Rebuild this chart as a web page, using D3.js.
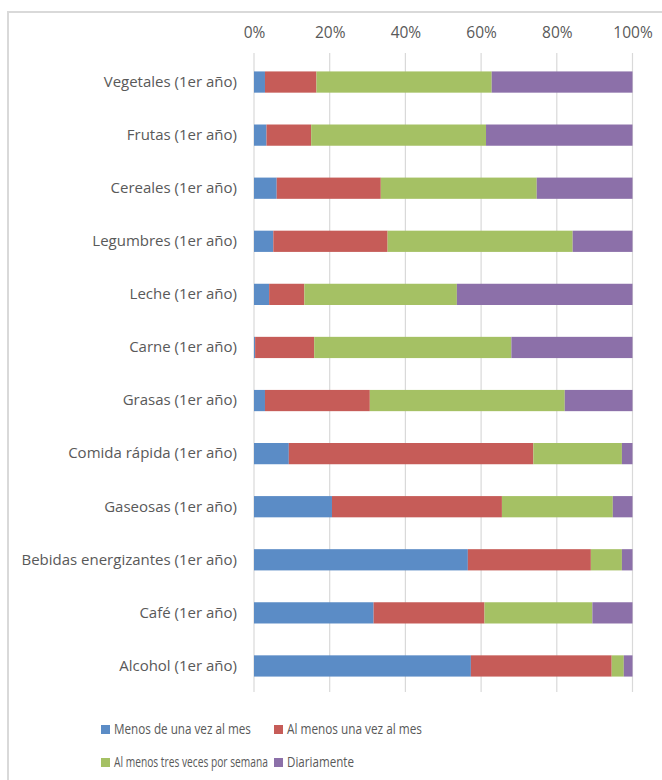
<!DOCTYPE html>
<html>
<head>
<meta charset="utf-8">
<script src="https://cdn.jsdelivr.net/npm/d3@7"></script>
<style>
  body { margin: 0; background: #fff; }
  text { font-family: "Open Sans", "Liberation Sans", sans-serif; fill: #595959; }
</style>
</head>
<body>
<svg id="chart"></svg>
<script>
// Food frequency chart, first year, 100% stacked bars

const categories = [
  "Vegetales (1er año)", "Frutas (1er año)", "Cereales (1er año)",
  "Legumbres (1er año)", "Leche (1er año)", "Carne (1er año)",
  "Grasas (1er año)", "Comida rápida (1er año)", "Gaseosas (1er año)",
  "Bebidas energizantes (1er año)", "Café (1er año)", "Alcohol (1er año)"
]
const seriesNames = [
  "Menos de una vez al mes", "Al menos una vez al mes",
  "Al menos tres veces por semana", "Diariamente"
]
const menosUnaVez = [2.9, 3.3, 6.0, 5.1, 4.0, 0.3, 2.9, 9.2, 20.6, 56.5, 31.6, 57.3]
const unaVezMes = [13.6, 11.8, 27.5, 30.2, 9.3, 15.6, 27.7, 64.6, 44.9, 32.5, 29.3, 37.2]
const tresVeces = [46.3, 46.2, 41.2, 48.9, 40.3, 52.1, 51.5, 23.4, 29.3, 8.2, 28.5, 3.2]
const diario = [37.2, 38.7, 25.3, 15.8, 46.4, 32.0, 17.9, 2.8, 5.2, 2.8, 10.6, 2.3]
const tickValues = [0, 0.2, 0.4, 0.6, 0.8, 1]

const colors = ["#5b8cc6", "#c65c58", "#a5c164", "#8c70a9"]

const width = 662
const height = 780
const svg = d3.select("#chart")
  .attr("width", width)
  .attr("height", height)

// chart frame (runs off the right and bottom edges like the original)
svg.append("path")
  .attr("d", `M8,${height + 5}V12H${width + 5}`)
  .attr("fill", "none")
  .attr("stroke", "#d9d9d9")
  .attr("stroke-width", 2)

const table = categories.map((c, i) => ({
  cat: c,
  [seriesNames[0]]: menosUnaVez[i],
  [seriesNames[1]]: unaVezMes[i],
  [seriesNames[2]]: tresVeces[i],
  [seriesNames[3]]: diario[i]
}))

const stacked = d3.stack()
  .keys(seriesNames)
  .offset(d3.stackOffsetExpand)(table)

const x = d3.scaleLinear()
  .domain([0, 1])
  .range([254, 632.5])

const y = d3.scaleBand()
  .domain(categories)
  .range([55.5, 692.5])
  .paddingInner(0.6)
  .paddingOuter(0.3)

// gridlines
svg.append("g")
  .selectAll("line")
  .data(tickValues)
  .join("line")
  .attr("x1", d => x(d))
  .attr("x2", d => x(d))
  .attr("y1", 53)
  .attr("y2", 692)
  .attr("stroke", "#d9d9d9")
  .attr("stroke-width", 1.2)

// top axis labels
svg.append("g")
  .attr("transform", "translate(0, 43)")
  .call(d3.axisTop(x)
    .tickValues(tickValues)
    .tickFormat(d3.format(".0%"))
    .tickSize(0)
    .tickPadding(5))
  .call(g => g.select(".domain").remove())
  .call(g => g.selectAll(".tick text")
    .attr("font-size", 15.5)
    .attr("font-family", null)
    .attr("fill", null))

// bars
svg.append("g")
  .selectAll("g")
  .data(stacked)
  .join("g")
  .attr("fill", (d, i) => colors[i])
  .selectAll("rect")
  .data(d => d)
  .join("rect")
  .attr("x", d => x(d[0]))
  .attr("width", d => x(d[1]) - x(d[0]))
  .attr("y", d => y(d.data.cat))
  .attr("height", y.bandwidth())

// category labels
svg.append("g")
  .attr("transform", `translate(${x(0)}, 0)`)
  .call(d3.axisLeft(y).tickSize(0).tickPadding(17))
  .call(g => g.select(".domain").remove())
  .call(g => g.selectAll(".tick text")
    .attr("font-size", 15)
    .attr("font-family", null)
    .attr("fill", null))

// legend; the original font is narrow, so each label is squeezed horizontally
const legendPos = [[101, 729], [274, 729], [101, 762], [274, 762]]
const legendWidths = [137, 135, 154, 67]
const legend = svg.append("g")
  .selectAll("g")
  .data(seriesNames)
  .join("g")
  .attr("transform", (d, i) => `translate(${legendPos[i][0]}, ${legendPos[i][1]})`)

legend.append("rect")
  .attr("x", 0)
  .attr("y", -4)
  .attr("width", 9)
  .attr("height", 9)
  .attr("fill", (d, i) => colors[i])

legend.append("text")
  .attr("dy", "0.35em")
  .attr("font-size", 15)
  .text(d => d)
  .attr("transform", function(d, i) {
    const sx = legendWidths[i] / this.getComputedTextLength()
    return `translate(13, 0) scale(${sx}, 1)`
  })
</script>
</body>
</html>
